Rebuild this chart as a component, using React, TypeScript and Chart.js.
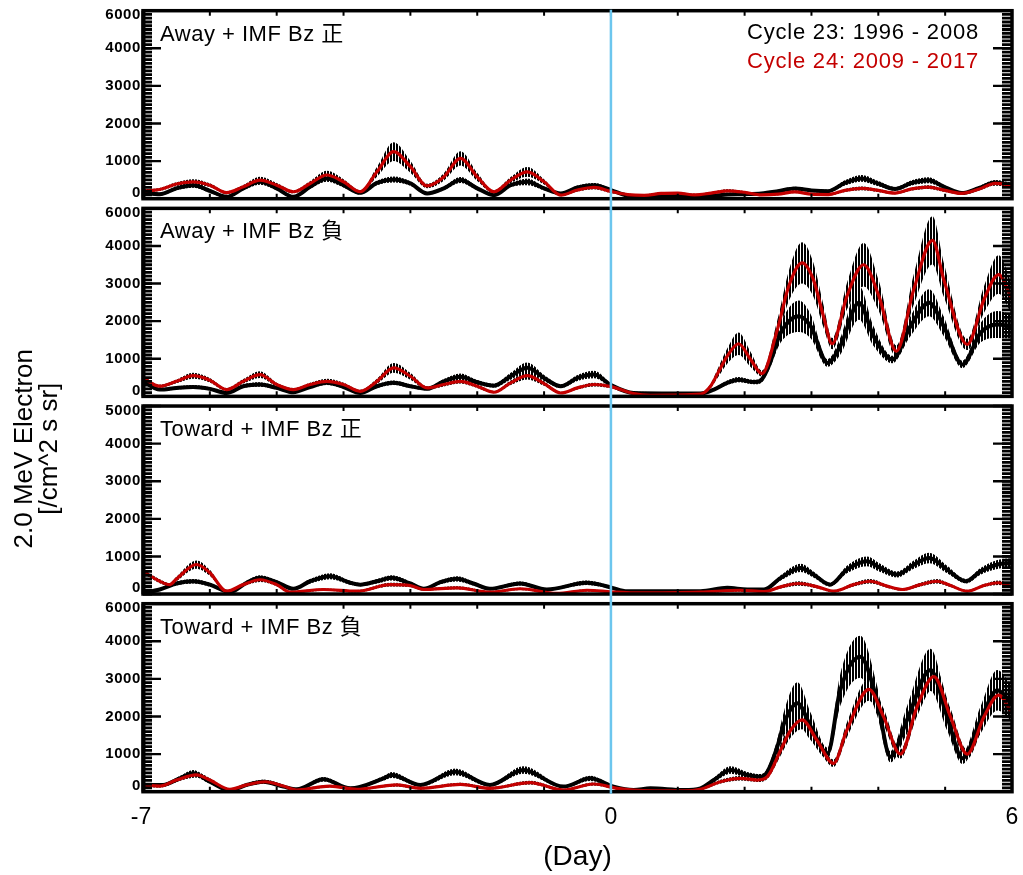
import { useEffect, useRef } from 'react';
import { Chart, registerables } from 'chart.js';

Chart.register(...registerables);

// [day, mean flux, error half-width]
type Pt = [number, number, number];

const panelTitles = ['Away + IMF Bz 正', 'Away + IMF Bz 負', 'Toward + IMF Bz 正', 'Toward + IMF Bz 負'];
const legendLabels = ['Cycle 23: 1996 - 2008', 'Cycle 24: 2009 - 2017'];
const yTickValues = [0, 1000, 2000, 3000, 4000, 5000];
const yTickLabelsByPanel = [
  ['0', '1000', '2000', '3000', '4000', '6000'],
  ['0', '1000', '2000', '3000', '4000', '6000'],
  ['0', '1000', '2000', '3000', '4000', '5000'],
  ['0', '1000', '2000', '3000', '4000', '6000'],
];
const xTickLabels = [-7, 0, 6];
const xDayTicks = [-6, -5, -4, -3, -2, -1, 0, 1, 2, 3, 4, 5];
const xTitle = '(Day)';
const yTitleLines = ['2.0 MeV Electron', '[/cm^2 s sr]'];

// Panel 1: Away + IMF Bz 正
const p1Cycle23: Pt[] = [
  [-7, 150, 40], [-6.75, 120, 40], [-6.5, 275, 50], [-6.25, 360, 70], [-6, 210, 50], [-5.75, 50, 30],
  [-5.5, 275, 50], [-5.25, 450, 80], [-5, 275, 50], [-4.75, 50, 30], [-4.5, 315, 50], [-4.25, 540, 90],
  [-4, 360, 60], [-3.75, 155, 40], [-3.5, 420, 60], [-3.25, 510, 80], [-3, 405, 60], [-2.75, 140, 40],
  [-2.5, 275, 50], [-2.25, 495, 80], [-2, 275, 50], [-1.75, 95, 30], [-1.5, 360, 50], [-1.25, 450, 90],
  [-1, 275, 50], [-0.75, 140, 30], [-0.5, 300, 50], [-0.25, 360, 60], [0, 230, 40], [0.25, 80, 30],
  [0.5, 50, 30], [0.75, 60, 30], [1, 70, 30], [1.25, 50, 30], [1.5, 70, 30], [1.75, 110, 30],
  [2, 120, 30], [2.25, 140, 30], [2.5, 200, 40], [2.75, 270, 50], [3, 220, 40], [3.25, 200, 40],
  [3.5, 420, 70], [3.75, 540, 90], [4, 400, 70], [4.25, 260, 50], [4.5, 420, 70], [4.75, 490, 80],
  [5, 300, 50], [5.25, 150, 30], [5.5, 280, 50], [5.75, 430, 70], [6, 360, 60],
];
const p1Cycle24: Pt[] = [
  [-7, 210, 40], [-6.75, 245, 40], [-6.5, 390, 50], [-6.25, 450, 70], [-6, 360, 50], [-5.75, 160, 40],
  [-5.5, 315, 50], [-5.25, 495, 90], [-5, 360, 60], [-4.75, 185, 40], [-4.5, 405, 60], [-4.25, 630, 110],
  [-4, 450, 70], [-3.75, 185, 40], [-3.5, 715, 130], [-3.25, 1250, 250], [-3, 850, 160], [-2.75, 340, 60],
  [-2.5, 580, 100], [-2.25, 1070, 190], [-2, 580, 110], [-1.75, 185, 40], [-1.5, 495, 80], [-1.25, 715, 130],
  [-1, 450, 70], [-0.75, 95, 30], [-0.5, 230, 40], [-0.25, 300, 50], [0, 190, 40], [0.25, 110, 30],
  [0.5, 90, 30], [0.75, 140, 30], [1, 150, 30], [1.25, 100, 30], [1.5, 150, 30], [1.75, 210, 40],
  [2, 170, 30], [2.25, 100, 30], [2.5, 120, 30], [2.75, 180, 30], [3, 120, 30], [3.25, 110, 30],
  [3.5, 220, 40], [3.75, 275, 50], [4, 220, 40], [4.25, 150, 30], [4.5, 260, 40], [4.75, 310, 50],
  [5, 220, 40], [5.25, 140, 30], [5.5, 250, 40], [5.75, 410, 60], [6, 360, 50],
];

// Panel 2: Away + IMF Bz 負
const p2Cycle23: Pt[] = [
  [-7, 400, 50], [-6.75, 180, 40], [-6.5, 225, 40], [-6.25, 250, 50], [-6, 200, 40], [-5.75, 90, 30],
  [-5.5, 270, 50], [-5.25, 315, 60], [-5, 225, 40], [-4.75, 110, 30], [-4.5, 250, 40], [-4.25, 360, 60],
  [-4, 250, 40], [-3.75, 90, 30], [-3.5, 270, 50], [-3.25, 360, 60], [-3, 270, 50], [-2.75, 200, 40],
  [-2.5, 400, 60], [-2.25, 520, 90], [-2, 375, 60], [-1.75, 285, 50], [-1.5, 535, 90], [-1.25, 760, 140],
  [-1, 490, 80], [-0.75, 270, 50], [-0.5, 490, 80], [-0.25, 580, 100], [0, 300, 50], [0.34, 90, 30],
  [1.34, 75, 30], [1.54, 180, 40], [1.74, 360, 60], [1.91, 445, 70], [2.14, 380, 60], [2.24, 420, 70],
  [2.36, 800, 120], [2.54, 1690, 260], [2.81, 2130, 420], [2.99, 1860, 320], [3.24, 890, 100], [3.43, 1330, 220],
  [3.71, 2490, 450], [3.93, 1600, 260], [4.21, 980, 100], [4.48, 1860, 260], [4.76, 2490, 360], [4.98, 1860, 260],
  [5.26, 850, 100], [5.53, 1690, 260], [5.78, 1910, 360], [6, 1860, 320],
];
const p2Cycle24: Pt[] = [
  [-7, 490, 60], [-6.75, 270, 40], [-6.5, 400, 50], [-6.25, 550, 80], [-6, 430, 60], [-5.75, 180, 40],
  [-5.5, 400, 60], [-5.25, 580, 90], [-5, 315, 50], [-4.75, 180, 40], [-4.5, 315, 50], [-4.25, 400, 70],
  [-4, 315, 50], [-3.75, 135, 40], [-3.5, 400, 70], [-3.25, 760, 130], [-3, 535, 90], [-2.75, 225, 40],
  [-2.5, 315, 50], [-2.25, 400, 60], [-2, 270, 50], [-1.75, 110, 30], [-1.5, 360, 60], [-1.25, 550, 100],
  [-1, 340, 60], [-0.75, 90, 30], [-0.5, 225, 40], [-0.25, 315, 50], [0, 260, 40], [0.34, 75, 30],
  [0.59, 30, 30], [1.34, 60, 30], [1.49, 270, 60], [1.6, 620, 120], [1.74, 1070, 200], [1.91, 1400, 300],
  [2.09, 980, 200], [2.26, 605, 80], [2.49, 1780, 250], [2.66, 2930, 400], [2.86, 3550, 550], [3.03, 3100, 450],
  [3.18, 2130, 300], [3.31, 1400, 150], [3.53, 2660, 350], [3.78, 3500, 580], [4.01, 2660, 400], [4.27, 1200, 150],
  [4.53, 2840, 400], [4.81, 4150, 640], [4.98, 3100, 450], [5.33, 1380, 150], [5.58, 2570, 350], [5.8, 3240, 510],
  [6, 2570, 400],
];

// Panel 3: Toward + IMF Bz 正
const p3Cycle23: Pt[] = [
  [-7, 30, 30], [-6.75, 120, 30], [-6.5, 280, 50], [-6.25, 340, 60], [-6, 250, 50], [-5.7, 50, 30],
  [-5.45, 300, 50], [-5.25, 430, 70], [-5, 315, 50], [-4.75, 140, 30], [-4.5, 340, 60], [-4.2, 475, 80],
  [-3.9, 300, 50], [-3.75, 250, 40], [-3.5, 340, 60], [-3.28, 430, 70], [-3, 280, 50], [-2.8, 140, 30],
  [-2.55, 315, 50], [-2.3, 405, 70], [-2.06, 280, 50], [-1.81, 140, 30], [-1.36, 280, 50], [-0.96, 120, 30],
  [-0.36, 300, 60], [-0.16, 250, 50], [0.02, 165, 30], [0.24, 75, 30], [1.34, 75, 30], [1.74, 165, 30],
  [2.04, 120, 30], [2.29, 120, 30], [2.54, 430, 70], [2.84, 695, 110], [3.03, 520, 80], [3.28, 250, 50],
  [3.53, 650, 100], [3.83, 870, 130], [4.03, 695, 110], [4.28, 520, 80], [4.53, 780, 110], [4.76, 960, 140],
  [5.03, 650, 100], [5.31, 340, 60], [5.53, 605, 90], [5.78, 785, 120], [6, 830, 120],
];
const p3Cycle24: Pt[] = [
  [-7, 605, 60], [-6.75, 340, 50], [-6.6, 250, 40], [-6.5, 400, 60], [-6.2, 785, 110], [-6, 565, 80],
  [-5.75, 75, 30], [-5.5, 250, 40], [-5.25, 380, 60], [-5, 250, 40], [-4.8, 50, 30], [-4.3, 120, 30],
  [-3.8, 75, 30], [-3.3, 250, 50], [-3, 225, 40], [-2.8, 120, 30], [-2.3, 165, 40], [-1.81, 50, 30],
  [-1.36, 140, 30], [-0.81, 15, 20], [-0.36, 100, 30], [0, 60, 20], [0.34, 30, 20], [1.34, 50, 20],
  [1.93, 100, 30], [2.29, 65, 20], [2.54, 190, 40], [2.81, 280, 60], [3.09, 190, 40], [3.33, 75, 30],
  [3.63, 250, 50], [3.88, 340, 60], [4.13, 210, 40], [4.36, 120, 30], [4.63, 250, 50], [4.88, 340, 60],
  [5.08, 225, 40], [5.33, 75, 30], [5.58, 225, 40], [5.8, 300, 60], [6, 190, 40],
];

// Panel 4: Toward + IMF Bz 負
const p4Cycle23: Pt[] = [
  [-7, 180, 40], [-6.7, 180, 40], [-6.45, 355, 60], [-6.25, 490, 90], [-6, 265, 50], [-5.7, 30, 30],
  [-5.45, 180, 40], [-5.2, 265, 50], [-4.9, 135, 30], [-4.7, 65, 30], [-4.3, 330, 60], [-3.9, 90, 30],
  [-3.4, 355, 60], [-3.28, 445, 80], [-2.85, 180, 40], [-2.33, 530, 90], [-1.81, 180, 40], [-1.31, 575, 100],
  [-0.71, 135, 30], [-0.31, 355, 70], [0.04, 135, 30], [0.34, 45, 30], [0.59, 90, 30], [1.09, 45, 30],
  [1.34, 90, 30], [1.54, 310, 60], [1.79, 575, 100], [2.04, 445, 80], [2.24, 400, 70], [2.34, 530, 90],
  [2.49, 1200, 200], [2.59, 1820, 320], [2.79, 2350, 560], [2.99, 1730, 360], [3.24, 1020, 150], [3.43, 2700, 420],
  [3.73, 3590, 560], [3.98, 2440, 400], [4.18, 930, 150], [4.43, 1910, 360], [4.78, 3240, 560], [5.03, 1990, 360],
  [5.26, 890, 150], [5.53, 1910, 360], [5.78, 2700, 540], [6, 2350, 460],
];
const p4Cycle24: Pt[] = [
  [-7, 180, 40], [-6.75, 150, 40], [-6.5, 310, 50], [-6.2, 445, 70], [-6, 310, 50], [-5.7, 65, 30],
  [-5.45, 180, 40], [-5.17, 265, 50], [-4.9, 150, 30], [-4.7, 45, 30], [-4.4, 115, 30], [-4.2, 150, 30],
  [-3.8, 65, 30], [-3.4, 150, 30], [-3.2, 180, 40], [-2.85, 90, 30], [-2.25, 195, 40], [-1.81, 90, 30],
  [-1.21, 240, 50], [-0.71, 45, 30], [-0.26, 205, 40], [0.09, 90, 30], [0.34, 45, 20], [1.09, 20, 20],
  [1.34, 65, 30], [1.64, 265, 50], [1.94, 355, 60], [2.19, 310, 50], [2.34, 400, 60], [2.54, 1110, 150],
  [2.69, 1640, 200], [2.86, 1910, 250], [3.08, 1375, 180], [3.33, 755, 100], [3.53, 1640, 200], [3.86, 2720, 300],
  [4.08, 1990, 220], [4.33, 1000, 120], [4.58, 2260, 250], [4.83, 3060, 300], [5.08, 1990, 220], [5.33, 1000, 120],
  [5.58, 1990, 220], [5.8, 2570, 300], [6, 2080, 250],
];

const cycle23ByPanel = [p1Cycle23, p2Cycle23, p3Cycle23, p4Cycle23];
const cycle24ByPanel = [p1Cycle24, p2Cycle24, p3Cycle24, p4Cycle24];

const BLACK = '#000000';
const RED = '#c40000';
const BLUE = '#6cc6ee';
const FONT = '"Liberation Sans", Arial, "Noto Sans CJK JP", sans-serif';

const PANEL_WEIGHT = 188;
const GAP_WEIGHT = 9.67;

const toLine = (pts: Pt[]) => pts.map(([d, v]) => ({ x: d, y: v }));
const toUpper = (pts: Pt[]) => pts.map(([d, v, e]) => ({ x: d, y: v + e }));
const toLower = (pts: Pt[]) => pts.map(([d, v, e]) => ({ x: d, y: Math.max(0, v - e) }));

const decorPlugin = {
  id: 'decor',
  afterDraw(chart: any) {
    const { ctx, chartArea } = chart;
    const xs = chart.scales.x;
    const L = chartArea.left;
    const R = chartArea.right;
    ctx.save();
    for (let p = 0; p < 4; p++) {
      const ys = chart.scales['y' + p];
      const T = ys.top;
      const B = ys.bottom;
      ctx.strokeStyle = BLACK;
      ctx.lineCap = 'butt';
      // minor y ticks (inward, both sides)
      ctx.lineWidth = 2.8;
      ctx.beginPath();
      for (let v = 0; v <= 5000; v += 100) {
        const y = ys.getPixelForValue(v);
        ctx.moveTo(L, y); ctx.lineTo(L + 9, y);
        ctx.moveTo(R - 10, y); ctx.lineTo(R, y);
      }
      ctx.stroke();
      // major y ticks
      ctx.lineWidth = 2.4;
      ctx.beginPath();
      for (const v of yTickValues) {
        const y = ys.getPixelForValue(v);
        ctx.moveTo(L, y); ctx.lineTo(L + 18, y);
        ctx.moveTo(R - 19, y); ctx.lineTo(R, y);
      }
      ctx.stroke();
      // day ticks top & bottom
      ctx.lineWidth = 2;
      ctx.beginPath();
      for (const d of xDayTicks) {
        const x = xs.getPixelForValue(d);
        ctx.moveTo(x, T); ctx.lineTo(x, T + 5);
        ctx.moveTo(x, B); ctx.lineTo(x, B - 5);
      }
      ctx.stroke();
      // frame
      ctx.lineWidth = 3.5;
      ctx.strokeRect(L, T, R - L, B - T);
      ctx.fillStyle = BLACK;
      ctx.fillRect(L - 1.5, T, 4, B - T);
      // y tick labels
      ctx.font = 'bold 15px ' + FONT;
      (ctx as any).letterSpacing = '0.6px';
      ctx.textAlign = 'right';
      ctx.textBaseline = 'middle';
      yTickValues.forEach((v, i) => {
        let y = ys.getPixelForValue(v);
        y = Math.min(B - 6, Math.max(T + 4.5, y));
        ctx.fillText(yTickLabelsByPanel[p][i], L - 2, y);
      });
      (ctx as any).letterSpacing = '0px';
      // panel title
      ctx.font = '22px ' + FONT;
      (ctx as any).letterSpacing = '0.5px';
      ctx.textAlign = 'left';
      ctx.textBaseline = 'alphabetic';
      ctx.fillText(panelTitles[p], L + 17, T + 30);
      (ctx as any).letterSpacing = '0px';
    }

    // legend in panel 1
    const y0 = chart.scales.y0;
    ctx.font = '22px ' + FONT;
    (ctx as any).letterSpacing = '0.8px';
    ctx.textAlign = 'right';
    ctx.textBaseline = 'alphabetic';
    ctx.fillStyle = BLACK;
    ctx.fillText(legendLabels[0], R - 33, y0.top + 28.5);
    ctx.fillStyle = RED;
    ctx.fillText(legendLabels[1], R - 33, y0.top + 57.5);
    (ctx as any).letterSpacing = '0px';

    // x tick labels and title
    ctx.fillStyle = BLACK;
    ctx.font = '23px ' + FONT;
    ctx.textAlign = 'center';
    for (const d of xTickLabels) {
      const x = xs.getPixelForValue(d);
      ctx.fillText(String(d), x - (d < 0 ? 2 : 0), chartArea.bottom + 32);
    }
    ctx.font = '28px ' + FONT;
    ctx.fillText(xTitle, (L + R) / 2, chartArea.bottom + 73);

    // y title (rotated)
    ctx.font = '26px ' + FONT;
    ctx.textBaseline = 'middle';
    const cy = chartArea.top + 438;
    [25, 50].forEach((cx, i) => {
      ctx.save();
      ctx.translate(cx, cy);
      ctx.rotate(-Math.PI / 2);
      ctx.fillText(yTitleLines[i], 0, 0);
      ctx.restore();
    });

    // day-0 marker
    const x0 = xs.getPixelForValue(0);
    ctx.strokeStyle = BLUE;
    ctx.lineWidth = 2.5;
    ctx.beginPath();
    ctx.moveTo(x0, chartArea.top - 1);
    ctx.lineTo(x0, chartArea.bottom + 2);
    ctx.stroke();
    ctx.restore();
  },
};

export default function App() {
  const canvasRef = useRef<HTMLCanvasElement | null>(null);

  useEffect(() => {
    const canvas = canvasRef.current;
    if (!canvas) return;

    // vertical hatch used for the error bars
    const pc = document.createElement('canvas');
    pc.width = 3;
    pc.height = 4;
    const pctx = pc.getContext('2d')!;
    pctx.fillStyle = BLACK;
    pctx.fillRect(0, 0, 2, 4);
    const hatch = canvas.getContext('2d')!.createPattern(pc, 'repeat') || BLACK;

    const datasets: any[] = [];
    for (let p = 0; p < 4; p++) {
      const yAxisID = 'y' + p;
      const common = { yAxisID, pointRadius: 0, cubicInterpolationMode: 'monotone' };
      for (const s of [cycle23ByPanel[p], cycle24ByPanel[p]]) {
        datasets.push({ ...common, data: toUpper(s), borderWidth: 0, borderColor: 'rgba(0,0,0,0)', fill: '+1', backgroundColor: hatch, order: 3 });
        datasets.push({ ...common, data: toLower(s), borderWidth: 0, borderColor: 'rgba(0,0,0,0)', fill: false, order: 3 });
      }
      datasets.push({ ...common, label: legendLabels[0], data: toLine(cycle23ByPanel[p]), borderColor: BLACK, borderWidth: 4, fill: false, order: 2 });
      datasets.push({ ...common, label: legendLabels[1], data: toLine(cycle24ByPanel[p]), borderColor: RED, borderWidth: 3.2, fill: false, order: 1 });
    }

    const scales: any = {
      x: { type: 'linear', min: -7, max: 6, display: false },
    };
    for (let p = 0; p < 4; p++) {
      scales['y' + p] = {
        type: 'linear', position: 'left', stack: 'panels', stackWeight: PANEL_WEIGHT,
        weight: 10 - 2 * p, min: 0, max: 5000, display: false,
      };
    }
    for (let g = 0; g < 3; g++) {
      scales['g' + g] = {
        type: 'linear', position: 'left', stack: 'panels', stackWeight: GAP_WEIGHT,
        weight: 9 - 2 * g, min: 0, max: 1, display: false,
      };
    }

    const chart = new Chart(canvas, {
      type: 'line',
      data: { datasets },
      options: {
        animation: false,
        responsive: false,
        devicePixelRatio: 1,
        layout: { padding: { top: 10.7, right: 11, bottom: 83.3, left: 143 } },
        scales,
        plugins: { legend: { display: false }, tooltip: { enabled: false } },
      } as any,
      plugins: [decorPlugin],
    });
    return () => chart.destroy();
  }, []);

  return (
    <div style={{ position: 'fixed', left: 0, top: 0, width: 1023, height: 875, background: '#ffffff' }}>
      <canvas ref={canvasRef} width={1023} height={875} style={{ display: 'block' }} />
    </div>
  );
}
